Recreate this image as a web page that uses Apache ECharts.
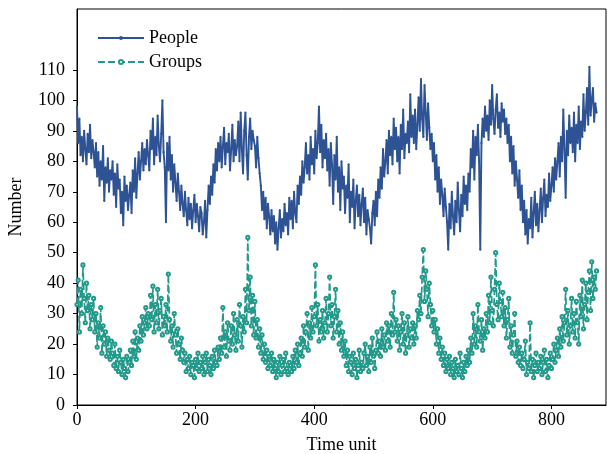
<!DOCTYPE html>
<html>
<head>
<meta charset="utf-8">
<script src="https://cdn.jsdelivr.net/npm/echarts@6/dist/echarts.min.js"></script>
<style>html,body{margin:0;padding:0;background:#fff;}#c{width:607px;height:454px;}</style>
</head>
<body>
<div id="c"></div>
<script>
// time step between sampled points (time units)
const timeStep = 2;
const people = [
  98, 86, 94, 82, 88, 80, 90, 84, 79, 89, 83, 92, 81, 87, 83,
  78, 86, 75, 83, 72, 80, 74, 85, 67, 78, 73, 81, 70, 77, 74,
  80, 69, 76, 65, 79, 71, 74, 63, 70, 59, 75, 67, 72, 64, 69,
  73, 63, 77, 70, 81, 68, 76, 83, 74, 80, 86, 77, 84, 79, 87,
  82, 77, 90, 84, 94, 79, 88, 82, 95, 85, 80, 89, 100, 83, 78,
  60, 86, 77, 88, 74, 82, 70, 79, 73, 67, 76, 70, 64, 72, 66,
  62, 70, 64, 59, 68, 61, 66, 58, 64, 69, 60, 66, 62, 57, 65,
  63, 56, 60, 67, 55, 64, 72, 66, 75, 69, 79, 73, 84, 77, 86,
  80, 88, 78, 85, 91, 79, 86, 83, 89, 77, 84, 92, 80, 87, 82,
  85, 93, 80, 96, 84, 76, 90, 96, 82, 74, 88, 94, 84, 90, 87,
  85, 78, 88, 81, 76, 72, 64, 70, 61, 68, 58, 66, 62, 56, 64,
  57, 62, 53, 60, 51, 58, 64, 55, 61, 57, 66, 59, 63, 56, 68,
  61, 67, 58, 70, 63, 60, 72, 66, 75, 69, 80, 73, 78, 86, 76,
  82, 74, 88, 79, 84, 76, 90, 81, 86, 98, 83, 92, 78, 87, 81,
  89, 77, 84, 72, 86, 79, 66, 82, 74, 88, 70, 78, 64, 80, 71,
  75, 63, 72, 68, 79, 60, 70, 65, 74, 58, 67, 72, 62, 69, 59,
  66, 71, 60, 68, 56, 64, 61, 58, 53, 63, 67, 59, 70, 62, 74,
  68, 78, 71, 84, 75, 80, 87, 76, 90, 82, 88, 79, 94, 84, 91,
  80, 88, 76, 92, 84, 97, 81, 89, 86, 93, 83, 102, 88, 95, 86,
  97, 84, 92, 101, 90, 107, 94, 88, 105, 96, 87, 99, 91, 84, 89,
  80, 86, 74, 82, 70, 78, 66, 74, 69, 62, 71, 65, 60, 51, 66,
  58, 70, 62, 56, 67, 60, 73, 64, 57, 69, 62, 75, 66, 72, 64,
  76, 70, 84, 78, 90, 74, 88, 82, 92, 80, 51, 86, 94, 88, 98,
  90, 95, 87, 100, 92, 105, 94, 89, 97, 102, 91, 96, 88, 99, 93,
  97, 89, 94, 86, 92, 80, 88, 76, 85, 72, 80, 74, 68, 77, 64,
  72, 60, 67, 56, 64, 53, 61, 58, 68, 55, 63, 70, 59, 66, 57,
  64, 71, 60, 68, 74, 62, 69, 65, 76, 67, 72, 78, 70, 81, 74,
  80, 86, 75, 88, 80, 97, 84, 68, 90, 82, 95, 86, 91, 83, 96,
  80, 92, 86, 98, 84, 93, 88, 102, 90, 96, 104, 92, 111, 95, 100,
  104, 93, 99, 96
];
const groups = [
  33, 41, 24, 38, 30, 46, 35, 27, 40, 31, 36, 25, 33, 28, 35,
  24, 30, 19, 27, 22, 32, 17, 26, 20, 24, 16, 22, 18, 15, 21,
  17, 13, 20, 12, 16, 11, 18, 14, 10, 15, 12, 9, 16, 11, 14,
  18, 13, 21, 16, 24, 15, 22, 18, 26, 21, 29, 23, 27, 32, 25,
  30, 26, 36, 28, 39, 24, 33, 27, 38, 25, 31, 35, 23, 29, 26,
  33, 24, 43, 28, 21, 26, 19, 30, 23, 17, 25, 20, 15, 22, 18,
  14, 17, 11, 15, 12, 16, 10, 14, 13, 9, 15, 12, 17, 11, 14,
  12, 16, 10, 14, 17, 11, 15, 13, 10, 16, 12, 18, 14, 13, 19,
  15, 22, 17, 32, 19, 24, 16, 27, 21, 18, 26, 20, 30, 23, 18,
  28, 21, 33, 26, 19, 29, 24, 38, 27, 55, 31, 42, 26, 36, 23,
  34, 22, 28, 19, 25, 17, 23, 15, 20, 14, 18, 12, 16, 13, 17,
  11, 15, 12, 9, 14, 11, 16, 10, 13, 15, 11, 17, 12, 10, 14,
  13, 11, 16, 12, 18, 14, 20, 13, 17, 22, 16, 26, 19, 24, 30,
  18, 27, 22, 32, 24, 29, 46, 26, 33, 21, 28, 24, 31, 22, 27,
  35, 24, 30, 42, 26, 33, 22, 29, 38, 24, 31, 20, 27, 18, 24,
  16, 21, 13, 18, 11, 16, 14, 10, 17, 12, 15, 9, 13, 18, 11,
  14, 12, 17, 20, 13, 16, 11, 19, 14, 22, 16, 12, 18, 24, 17,
  21, 16, 25, 19, 23, 18, 27, 21, 26, 19, 30, 23, 37, 24, 28,
  21, 26, 18, 24, 30, 20, 27, 17, 23, 29, 19, 25, 22, 27, 20,
  26, 22, 31, 28, 36, 30, 42, 51, 34, 44, 38, 29, 40, 33, 26,
  31, 24, 28, 20, 25, 17, 22, 15, 19, 13, 17, 11, 15, 12, 16,
  10, 14, 12, 9, 15, 11, 13, 10, 17, 12, 9, 14, 11, 16, 13,
  18, 14, 22, 17, 30, 20, 26, 19, 33, 24, 21, 28, 18, 25, 22,
  30, 24, 36, 27, 42, 31, 26, 38, 50, 33, 28, 40, 34, 29, 37,
  26, 32, 22, 28, 35, 19, 26, 17, 23, 30, 16, 21, 14, 19, 13,
  17, 12, 15, 21, 10, 14, 12, 27, 11, 15, 9, 13, 17, 11, 14,
  12, 16, 10, 14, 18, 11, 15, 9, 13, 17, 12, 15, 20, 14, 18,
  22, 16, 25, 19, 29, 21, 27, 38, 23, 31, 20, 26, 35, 24, 30,
  22, 34, 27, 20, 36, 29, 41, 25, 33, 40, 28, 37, 44, 31, 47,
  35, 42, 38, 44
];
const xTicks = [0, 200, 400, 600, 800];
const yTicks = [0, 10, 20, 30, 40, 50, 60, 70, 80, 90, 100, 110];

const times = people.map((_, i) => i * timeStep);
const font = 'Liberation Serif';
const chart = echarts.init(document.getElementById('c'), null, {renderer: 'canvas'});
chart.setOption({
  animation: false,
  backgroundColor: '#fff',
  textStyle: {fontFamily: font},
  grid: {left: 77, right: 1, top: 9, bottom: 49, show: true, borderColor: '#000', borderWidth: 1,
         containLabel: false, outerBoundsMode: 'none'},
  legend: {
    left: 92, top: 24, orient: 'vertical', itemWidth: 46, itemHeight: 5, itemGap: 6,
    textStyle: {fontFamily: font, fontSize: 18, color: '#000'},
    data: ['People', 'Groups']
  },
  xAxis: {
    type: 'value', min: 0, max: 892,
    name: 'Time unit', nameLocation: 'middle', nameGap: 31,
    nameTextStyle: {fontFamily: font, fontSize: 18, color: '#000'},
    axisLine: {show: true, lineStyle: {color: '#000', width: 1}},
    axisTick: {show: true, length: 4, customValues: xTicks, lineStyle: {color: '#000'}},
    axisLabel: {customValues: xTicks, fontFamily: font, fontSize: 18, color: '#000', margin: 6},
    splitLine: {show: false}
  },
  yAxis: {
    type: 'value', min: 0, max: 130,
    name: 'Number', nameLocation: 'middle', nameGap: 52,
    nameTextStyle: {fontFamily: font, fontSize: 18, color: '#000'},
    axisLine: {show: true, lineStyle: {color: '#000', width: 1}},
    axisTick: {show: true, length: 4, customValues: yTicks, lineStyle: {color: '#000'}},
    axisLabel: {customValues: yTicks, fontFamily: font, fontSize: 18, color: '#000', margin: 12},
    splitLine: {show: false}
  },
  series: [
    {
      name: 'People', type: 'line',
      data: times.map((t, i) => [t, people[i]]),
      symbol: 'circle', symbolSize: 2.2, showSymbol: true,
      itemStyle: {color: '#2e5395'},
      lineStyle: {color: '#2e5395', width: 1.9},
      z: 2
    },
    {
      name: 'Groups', type: 'line',
      data: times.map((t, i) => [t, groups[i]]),
      symbol: 'emptyCircle', symbolSize: 3.2, showSymbol: true,
      itemStyle: {color: '#22998a', borderWidth: 1},
      lineStyle: {color: '#22998a', width: 1.7, type: [7, 3]},
      z: 3
    }
  ]
});
</script>
</body>
</html>
